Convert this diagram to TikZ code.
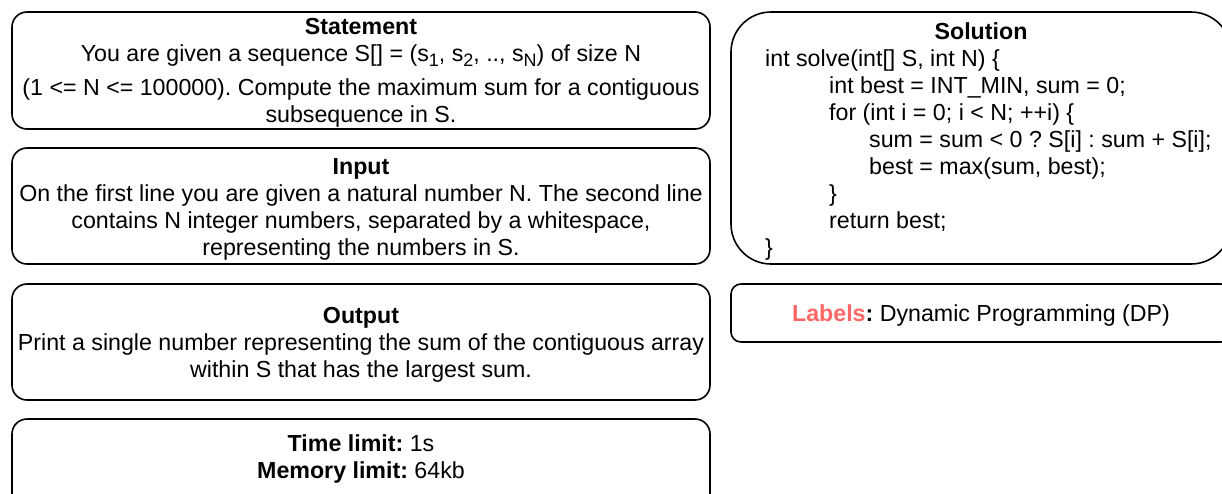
\documentclass[tikz,border=0pt]{standalone}
\usepackage{fontspec}
\setmainfont{Liberation Sans}
\definecolor{labelred}{HTML}{FF6666}
% lowered, smaller index for sequence elements
\newcommand\seqidx[1]{\raisebox{-5pt}{\fontsize{18}{18}\selectfont #1}}
\begin{document}
\frenchspacing
\begin{tikzpicture}[x=1pt,y=-1pt,
  box/.style={draw, line width=1.6pt, rounded corners=15pt, minimum width=698pt, inner sep=0pt},
  txt/.style={font=\fontsize{23.2}{27}\selectfont, align=center, inner sep=0pt}]
\useasboundingbox (0,0) rectangle (1222,493);

% left column: problem description
\node[box, minimum height=117pt] (statement) at (361,70.5) {};
\node[txt] (statementtext) at ([yshift=-2.5pt]statement.center)
  {\textbf{Statement}\\
   You are given a sequence S[] = (s\seqidx{1}, s\seqidx{2}, .., s\seqidx{N}) of size N\\[7pt]
   (1 <= N <= 100000). Compute the maximum sum for a contiguous\\
   subsequence in S.};
\node[box, minimum height=116pt] (input) at (361,206) {};
\node[txt] (inputtext) at ([yshift=-3pt]input.center)
  {\textbf{Input}\\
   On the first line you are given a natural number N. The second line\\
   contains N integer numbers, separated by a whitespace,\\
   representing the numbers in S.};
\node[box, minimum height=116pt] (output) at (361,342) {};
\node[txt] (outputtext) at ([yshift=-3pt]output.center)
  {\textbf{Output}\\
   Print a single number representing the sum of the contiguous array\\
   within S that has the largest sum.};
\node[box, minimum height=110pt] (limits) at (361,474) {};
\node[txt] (limitstext) at (361,459)
  {\textbf{Time limit:} 1s\\ \textbf{Memory limit:} 64kb};

% right column: solution and labels
\node[box, rounded corners=40pt, minimum width=500pt, minimum height=252pt] (solution) at (981,138) {};
\node[txt] (soltitle) at (981,31) {\textbf{Solution}};
\node[txt, align=left, anchor=north west] (code) at (765,49)
  {int solve(int[] S, int N) \{\\
   \hspace*{64pt}int best = INT\_MIN, sum = 0;\\
   \hspace*{64pt}for (int i = 0; i < N; ++i) \{\\
   \hspace*{104pt}sum = sum < 0 ? S[i] : sum + S[i];\\
   \hspace*{104pt}best = max(sum, best);\\
   \hspace*{64pt}\}\\
   \hspace*{64pt}return best;\\
   \}};
\node[box, rounded corners=10pt, minimum width=500pt, minimum height=58pt] (labels) at (981,313) {};
\node[txt] (labelstext) at ([yshift=-2pt]labels.center)
  {\textbf{\textcolor{labelred}{Labels}:} Dynamic Programming (DP)};
\end{tikzpicture}
\end{document}
